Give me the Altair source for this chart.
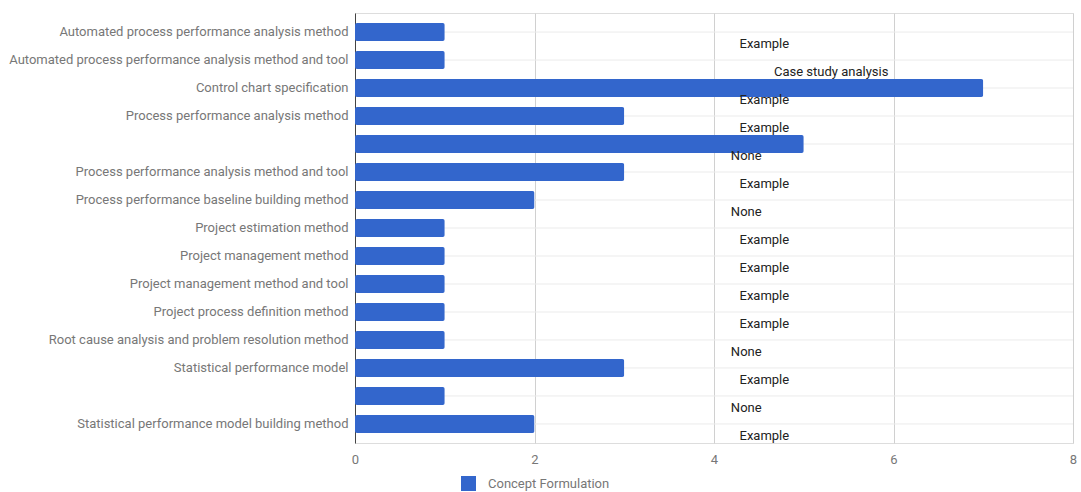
import altair as alt
import pandas as pd

# Artefact categories (two rows carry no label), their counts and the evidence notes
categories = [
    "Automated process performance analysis method",
    "Automated process performance analysis method and tool",
    "Control chart specification",
    "Process performance analysis method",
    "",
    "Process performance analysis method and tool",
    "Process performance baseline building method",
    "Project estimation method",
    "Project management method",
    "Project management method and tool",
    "Project process definition method",
    "Root cause analysis and problem resolution method",
    "Statistical performance model",
    "",
    "Statistical performance model building method",
]
counts = [1, 1, 7, 3, 5, 3, 2, 1, 1, 1, 1, 1, 3, 1, 2]
notes = [
    "Example", "Case study analysis", "Example", "Example", "None",
    "Example", "None", "Example", "Example", "Example",
    "Example", "None", "Example", "None", "Example",
]
series_name = "Concept Formulation"

df = pd.DataFrame({
    "key": [f"{i:02d}|{c}" for i, c in enumerate(categories)],
    "count": counts,
    "note": notes,
    "series": series_name,
})

label_color = "#777777"
font = "Roboto"
fsize = 13

y_enc = alt.Y(
    "key:N",
    sort=None,
    title=None,
    scale=alt.Scale(paddingInner=0.36, paddingOuter=0.36),
    axis=alt.Axis(
        labelExpr="split(datum.label, '|')[1]",
        labelColor=label_color,
        labelFont=font,
        labelFontSize=fsize,
        labelPadding=7,
        labelLimit=400,
        ticks=False,
        domain=True,
        domainColor="#444444",
        grid=False,
    ),
)

x_enc = alt.X(
    "count:Q",
    title=None,
    scale=alt.Scale(domain=[0, 8], nice=False),
    axis=alt.Axis(
        values=[0, 2, 4, 6, 8],
        format="d",
        labelColor=label_color,
        labelFont=font,
        labelFontSize=fsize,
        labelPadding=10,
        labelFlush=False,
        ticks=False,
        domain=False,
        grid=True,
        gridColor="#d0d0d0",
    ),
)

# Faint row lines through the middle of every category band
row_lines = alt.Chart(df).mark_rule(color="#ebebeb", strokeWidth=1).encode(
    y=y_enc,
    x=alt.value(0),
    x2=alt.value(718),
)

bars = alt.Chart(df).mark_bar(cornerRadius=2).encode(
    y=y_enc,
    x=x_enc,
    color=alt.Color(
        "series:N",
        scale=alt.Scale(range=["#3366cc"]),
        legend=alt.Legend(
            title=None,
            orient="none",
            legendX=106,
            legendY=463,
            symbolType="square",
            symbolSize=225,
            symbolStrokeWidth=0,
            labelFont=font,
            labelFontSize=fsize,
            labelColor=label_color,
            labelOffset=12,
        ),
    ),
)

# Evidence notes, shifted below each bar and right of the x=4 gridline;
# the note position reuses the "count" field name so the x axis stays shared
notes_layer = alt.Chart(df).transform_calculate(
    count="4.06 + 0.032 * length(datum.note)"
).mark_text(
    align="left", baseline="middle", dy=12, font=font, fontSize=fsize, color="#222222"
).encode(
    y=y_enc,
    x=x_enc,
    text="note:N",
)

chart = alt.layer(row_lines, bars, notes_layer).properties(
    width=718,
    height=430,
    autosize=alt.AutoSizeParams(type="none"),
    padding={"left": 355, "top": 13, "right": 8, "bottom": 49},
).configure_view(stroke="transparent", strokeWidth=0).configure_axisX(
    domain=False
).configure(background="white")

chart.save("out.html", embed_options={"renderer": "svg", "actions": False})
